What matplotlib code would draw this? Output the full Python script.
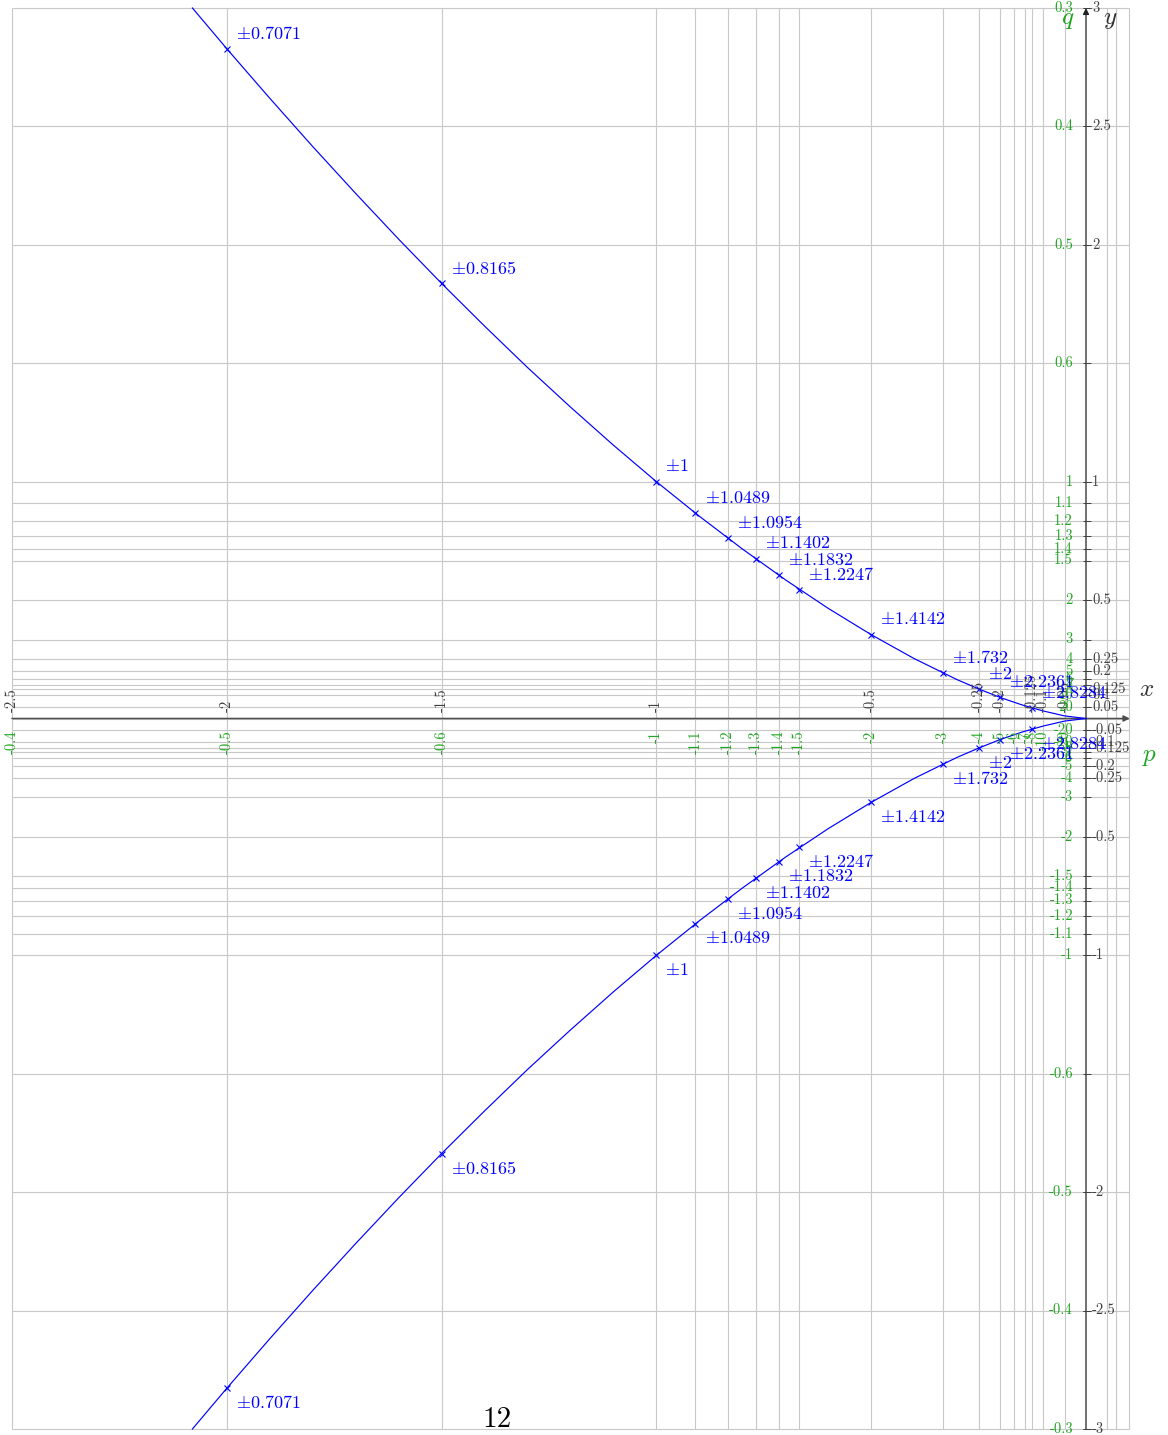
import matplotlib
matplotlib.use("Agg")
from matplotlib import pyplot as plt

plt.rcParams['font.family'] = ['cmr10', 'DejaVu Serif']
plt.rcParams['mathtext.fontset'] = 'cm'
plt.rcParams['axes.unicode_minus'] = False

# upper branch of the curve (lower branch is mirrored)
curve_x = [-2.08, -2.0, -1.9, -1.8, -1.7, -1.6, -1.5, -1.4, -1.3, -1.2, -1.1, -1.0,
           -0.9, -0.8, -0.7, -0.6, -0.5, -0.4, -0.3, -0.25, -0.2, -0.15, -0.1, -0.05, 0.0]
curve_y = [3.0, 2.828, 2.619, 2.415, 2.217, 2.024, 1.837, 1.657, 1.482, 1.315, 1.154, 1.0,
           0.854, 0.716, 0.586, 0.465, 0.354, 0.253, 0.164, 0.125, 0.089, 0.058, 0.032, 0.011, 0.0]

# marked points and their labels
mark_x = [-2.0, -1.5, -1.0, -0.909, -0.833, -0.769, -0.714, -0.667, -0.5, -0.333, -0.25, -0.2, -0.125]
mark_y = [2.828, 1.837, 1.0, 0.867, 0.761, 0.675, 0.604, 0.544, 0.354, 0.192, 0.125, 0.089, 0.044]
mark_labels = ["0.7071", "0.8165", "1", "1.0489", "1.0954", "1.1402", "1.1832", "1.2247",
               "1.4142", "1.732", "2", "2.2361", "2.8284"]

# grey ticks (x and y)
x_ticks = [-2.5, -2, -1.5, -1, -0.5, -0.25, -0.2, -0.125, -0.1, -0.05]
x_labels = ["-2.5", "-2", "-1.5", "-1", "-0.5", "-0.25", "-0.2", "-0.125", "-0.1", "-0.05"]
y_ticks = [3, 2.5, 2, 1, 0.5, 0.25, 0.2, 0.125, 0.1, 0.05]
y_labels = ["3", "2.5", "2", "1", "0.5", "0.25", "0.2", "0.125", "0.1", "0.05"]

# green ticks: p along x, q along y
p_ticks = [-2.5, -2, -1.5, -1, -0.909, -0.833, -0.769, -0.714, -0.667, -0.5,
           -0.333, -0.25, -0.2, -0.167, -0.143, -0.125, -0.1, -0.05]
p_labels = ["-0.4", "-0.5", "-0.6", "-1", "-1.1", "-1.2", "-1.3", "-1.4", "-1.5", "-2",
            "-3", "-4", "-5", "-6", "-7", "-8", "-10", "-20"]
q_ticks = [3, 2.5, 2, 1.5, 1, 0.909, 0.833, 0.769, 0.714, 0.667, 0.5,
           0.333, 0.25, 0.2, 0.167, 0.143, 0.125, 0.1, 0.05]
q_labels = ["0.3", "0.4", "0.5", "0.6", "1", "1.1", "1.2", "1.3", "1.4", "1.5", "2",
            "3", "4", "5", "6", "7", "8", "10", "20"]
extra_vlines = [0.05, 0.07, 0.1]

# pixel layout of the page
X0, SX = 1086.0, 429.6
Y0, SY = 718.5, 236.83


def dx(px):
    return px / SX


def dy(py):
    return py / SY


blue = "#0000ff"
green = "#1fa51f"
grey = "#404040"
gridc = "#c8c8c8"

fig = plt.figure(figsize=(11.68, 14.35), dpi=100)
ax = fig.add_axes([0, 0, 1, 1])
ax.set_xlim(-X0 / SX, (1168 - X0) / SX)
ax.set_ylim(-(1435 - Y0) / SY, Y0 / SY)
ax.axis("off")

# grid
vx = sorted(set(x_ticks + p_ticks + extra_vlines))
hy = sorted(set(y_ticks + q_ticks))
hy = hy + [-v for v in hy]
ax.vlines(vx, -3, 3, color=gridc, lw=0.8, zorder=1)
ax.hlines(hy, -2.5, 0.1, color=gridc, lw=0.8, zorder=1)
ax.hlines([0], -2.5, 0.1, color=gridc, lw=0.8, zorder=1)

# axes with arrows
ax.annotate("", xy=(0.102, 0), xytext=(-2.5, 0),
            arrowprops=dict(arrowstyle="-|>", color="#4d4d4d", lw=1.1,
                            mutation_scale=9, shrinkA=0, shrinkB=0), zorder=2)
ax.annotate("", xy=(0, 3), xytext=(0, -3),
            arrowprops=dict(arrowstyle="-|>", color="#222222", lw=0.9,
                            mutation_scale=9, shrinkA=0, shrinkB=0), zorder=2)

# y axis tick marks
all_y = y_ticks + q_ticks
all_y = all_y + [-v for v in all_y]
ax.hlines(all_y, -dx(3), dx(5), color=grey, lw=0.7, zorder=2)

# grey tick labels
fs_tick = 10.5
for x, lab in zip(x_ticks, x_labels):
    ax.text(x, dy(6), lab, rotation=90, ha="center", va="bottom",
            fontsize=fs_tick, color=grey, zorder=4)
for y, lab in zip(y_ticks, y_labels):
    ax.text(dx(6), y, lab, ha="left", va="center", fontsize=fs_tick, color=grey, zorder=4)
    ax.text(dx(6), -y, "-" + lab, ha="left", va="center", fontsize=fs_tick, color=grey, zorder=4)

# green tick labels
for x, lab in zip(p_ticks, p_labels):
    ax.text(x, -dy(12), lab, rotation=90, ha="center", va="top",
            fontsize=fs_tick, color=green, zorder=4)
for y, lab in zip(q_ticks, q_labels):
    ax.text(-dx(13), y, lab, ha="right", va="center", fontsize=fs_tick, color=green, zorder=4)
    ax.text(-dx(13), -y, "-" + lab, ha="right", va="center", fontsize=fs_tick, color=green, zorder=4)

# curve
neg_y = [-v for v in curve_y]
ax.plot(curve_x, curve_y, color=blue, lw=0.85, zorder=3)
ax.plot(curve_x, neg_y, color=blue, lw=0.85, zorder=3)
ax.plot(mark_x, mark_y, "x", color=blue, ms=5, mew=0.8, zorder=3)
ax.plot(mark_x, [-v for v in mark_y], "x", color=blue, ms=5, mew=0.8, zorder=3)

for x, y, lab in zip(mark_x, mark_y, mark_labels):
    ax.annotate(r"$\pm" + lab + "$", (x, y), xytext=(6.5, 11), textcoords="offset points",
                ha="left", va="center", fontsize=13, color=blue, zorder=5)
    ax.annotate(r"$\pm" + lab + "$", (x, -y), xytext=(6.5, -10.5), textcoords="offset points",
                ha="left", va="center", fontsize=13, color=blue, zorder=5)

# axis names
ax.text(dx(1147 - X0), dy(Y0 - 690), r"$x$", fontsize=18, color="#333333", ha="center", va="center")
ax.text(dx(1110 - X0), dy(Y0 - 20), r"$y$", fontsize=18, color="#333333", ha="center", va="center")
ax.text(dx(1068 - X0), dy(Y0 - 20), r"$q$", fontsize=18, color=green, ha="center", va="center")
ax.text(dx(1150 - X0), dy(Y0 - 757), r"$p$", fontsize=18, color=green, ha="center", va="center")

# page number
ax.text(dx(497 - X0), dy(Y0 - 1420), "12", fontsize=21, color="black", ha="center", va="center")

fig.savefig("out.png", dpi=100)
